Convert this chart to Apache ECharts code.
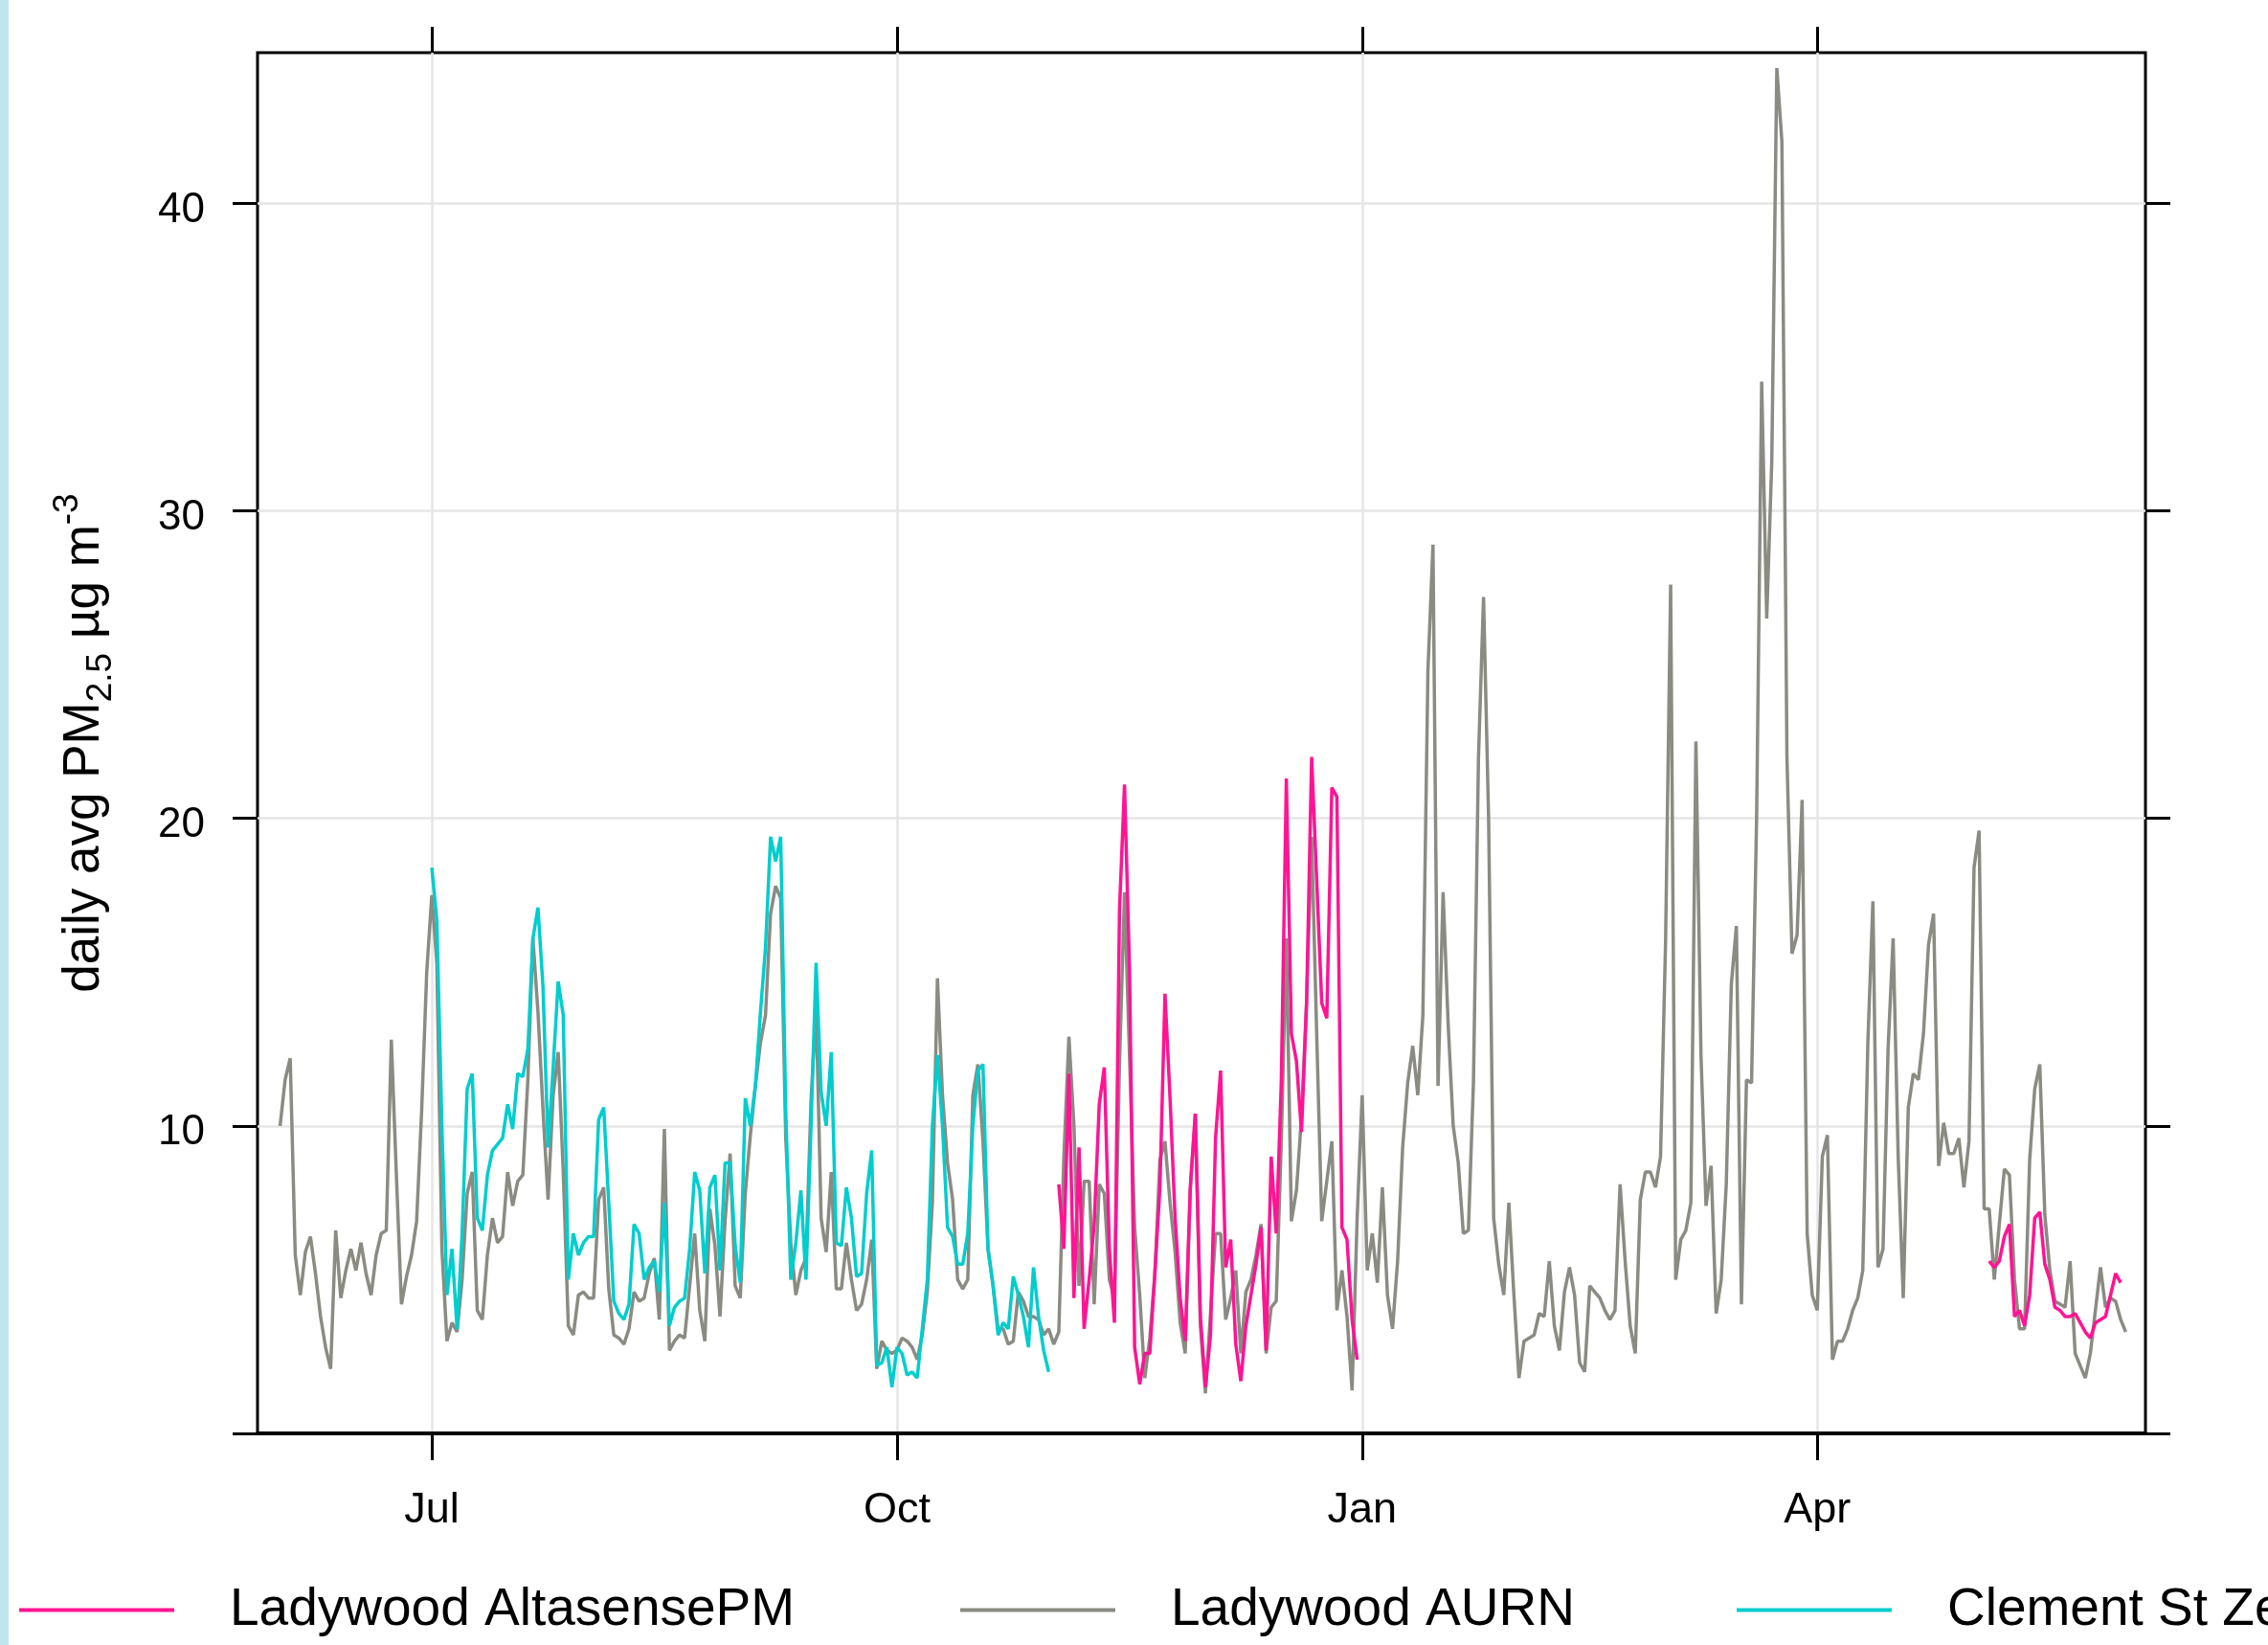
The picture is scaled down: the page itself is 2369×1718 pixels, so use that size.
<!DOCTYPE html>
<html>
<head>
<meta charset="utf-8">
<script src="https://cdn.jsdelivr.net/npm/echarts@6.0.0/dist/echarts.min.js"></script>
<style>
  html, body { margin: 0; padding: 0; background: #fff; }
  #chart { width: 2369px; height: 1718px; }
</style>
</head>
<body>
<div id="chart"></div>
<script>
// daily avg PM2.5 - Ladywood AURN vs sensors

var aurnStart = '2021-06-01';
var aurnValues = [
  10.0, 11.5, 12.2, 5.8, 4.5, 5.9, 6.4, 5.2, 3.8, 2.8,
  2.1, 6.6, 4.4, 5.3, 6.0, 5.3, 6.2, 5.2, 4.5, 5.8,
  6.5, 6.6, 12.8, 8.4, 4.2, 5.1, 5.8, 6.9, 10.5, 15.0,
  17.5, 15.3, 6.0, 3.0, 3.6, 3.3, 5.0, 7.8, 8.5, 4.0,
  3.7, 5.8, 7.0, 6.2, 6.4, 8.5, 7.4, 8.2, 8.4, 11.5,
  16.1, 13.7, 10.5, 7.6, 11.0, 12.4, 8.5, 3.5, 3.2, 4.5,
  4.6, 4.4, 4.4, 7.6, 8.0, 4.7, 3.2, 3.1, 2.9, 3.4,
  4.6, 4.3, 4.4, 5.2, 5.7, 3.7, 9.9, 2.7, 3.0, 3.2,
  3.1, 4.8, 6.5, 4.0, 3.0, 7.3, 6.1, 3.8, 6.9, 9.1,
  4.8, 4.4, 7.8, 9.7, 11.3, 12.7, 13.6, 16.9, 17.8, 17.4,
  9.6, 6.2, 4.5, 5.3, 5.7, 10.8, 13.9, 7.0, 5.9, 8.5,
  4.7, 4.7, 6.2, 5.0, 4.0, 4.2, 5.0, 6.3, 2.1, 3.0,
  2.7, 2.6, 2.7, 3.1, 3.0, 2.8, 2.4, 3.2, 4.6, 7.5,
  14.8, 11.0, 8.8, 7.6, 5.0, 4.7, 5.0, 11.0, 12.0, 9.5,
  6.0, 4.8, 3.4, 3.4, 2.9, 3.0, 4.6, 4.3, 3.8, 3.8,
  3.7, 3.2, 3.4, 2.9, 3.3, 9.0, 12.9, 10.0, 4.8, 8.2,
  8.2, 4.2, 8.1, 7.8, 5.0, 4.4, 12.0, 17.6, 12.2, 6.7,
  4.5, 1.8, 3.1, 5.2, 8.9, 9.5, 7.5, 5.9, 3.6, 2.6,
  7.9, 10.4, 3.5, 1.3, 3.9, 6.5, 6.5, 3.7, 4.4, 5.3,
  2.6, 4.6, 5.0, 5.8, 6.8, 2.6, 4.1, 4.3, 9.5, 16.1,
  6.9, 7.9, 10.3, 14.0, 19.4, 13.0, 6.9, 8.2, 9.5, 4.0,
  5.3, 3.8, 1.4, 7.0, 11.0, 5.3, 6.5, 4.9, 8.0, 4.5,
  3.4, 5.6, 9.3, 11.4, 12.6, 11.0, 13.6, 24.8, 28.9, 11.3,
  17.6, 13.3, 10.0, 8.8, 6.5, 6.6, 11.4, 22.0, 27.2, 20.0,
  7.0, 5.5, 4.5, 7.5, 4.5, 1.8, 3.0, 3.1, 3.2, 3.9,
  3.8, 5.6, 3.5, 2.7, 4.6, 5.4, 4.5, 2.3, 2.0, 4.8,
  4.6, 4.4, 4.0, 3.7, 4.0, 8.1, 5.6, 3.5, 2.6, 7.6,
  8.5, 8.5, 8.0, 9.0, 16.0, 27.6, 5.0, 6.3, 6.6, 7.5,
  22.5, 12.3, 7.4, 8.7, 3.9, 5.0, 8.1, 14.6, 16.5, 4.2,
  11.5, 11.4, 20.0, 34.2, 26.5, 31.6, 44.4, 42.0, 22.0, 15.6,
  16.2, 20.6, 6.5, 4.5, 4.0, 9.0, 9.7, 2.4, 3.0, 3.0,
  3.4, 4.0, 4.4, 5.3, 12.7, 17.3, 5.4, 6.0, 12.5, 16.1,
  9.0, 4.4, 10.6, 11.7, 11.5, 13.0, 15.9, 16.9, 8.7, 10.1,
  9.1, 9.1, 9.6, 8.0, 9.5, 18.4, 19.6, 7.3, 7.3, 5.0,
  6.8, 8.6, 8.4, 5.0, 3.4, 3.4, 8.9, 11.2, 12.0, 7.1,
  5.3, 4.3, 4.2, 4.1, 5.6, 2.6, 2.2, 1.8, 2.6, 4.0,
  5.4, 4.1, 4.4, 4.3, 3.7, 3.3
];

var zephyrStart = '2021-07-01';
var zephyrValues = [
  18.4, 16.7, 10.0, 4.5, 6.0, 3.4, 6.5, 11.2, 11.7, 7.0,
  6.6, 8.4, 9.2, 9.4, 9.6, 10.7, 9.9, 11.7, 11.6, 12.5,
  16.1, 17.1, 14.5, 9.3, 11.9, 14.7, 13.6, 5.0, 6.5, 5.8,
  6.2, 6.4, 6.4, 10.2, 10.6, 7.5, 4.3, 3.9, 3.7, 4.2,
  6.8, 6.5, 5.0, 5.4, 5.6, 4.6, 7.5, 3.5, 4.1, 4.3,
  4.4, 6.0, 8.5, 7.9, 5.2, 8.0, 8.4, 5.3, 8.8, 8.8,
  6.1, 4.9, 10.9, 10.0, 11.3, 13.7, 15.8, 19.4, 18.6, 19.4,
  10.5, 5.0, 6.2, 7.9, 5.0, 10.0, 15.3, 11.1, 10.0, 12.4,
  6.2, 6.1, 8.0, 7.0, 5.1, 5.2, 7.8, 9.2, 2.2, 2.3,
  2.8, 1.5, 2.8, 2.6, 1.9, 2.0, 1.8, 3.4, 5.0, 10.0,
  12.3, 10.0, 6.7, 6.4, 5.5, 5.5, 6.5, 10.0, 11.8, 12.0,
  6.0, 4.8, 3.2, 3.6, 3.4, 5.1, 4.5, 3.8, 2.8, 5.4,
  3.8, 2.7, 2.0
];

var altaStart1 = '2021-11-02';
var altaValues1 = [
  8.1, 6.0, 11.7, 4.4, 9.3, 3.4, 5.0, 6.8, 10.7, 11.9,
  6.0, 3.6, 17.0, 21.1, 15.0, 2.8, 1.6, 2.6, 2.6, 5.2,
  8.0, 14.3, 10.9, 7.0, 4.4, 3.0, 8.0, 10.4, 3.8, 1.5,
  3.2, 9.6, 11.8, 5.4, 6.3, 2.9, 1.7, 3.5, 4.5, 5.5,
  6.7, 2.7, 9.0, 6.5, 11.4, 21.3, 13.0, 12.1, 9.8, 14.0,
  22.0, 18.0, 14.0, 13.5, 21.0, 20.7, 6.7, 6.3, 3.7, 2.4
];

var altaStart2 = '2022-05-05';
var altaValues2 = [
  5.6, 5.4, 5.6, 6.4, 6.8, 3.8, 4.0, 3.5, 4.5, 7.0,
  7.2, 5.5, 5.0, 4.1, 4.0, 3.8, 3.8, 3.9, 3.6, 3.3,
  3.1, 3.6, 3.7, 3.8, 4.5, 5.2, 4.9
];

var xTickDates = ['2021-07-01', '2021-10-01', '2022-01-01', '2022-04-01'];
var xTickLabels = ['Jul', 'Oct', 'Jan', 'Apr'];
var yTickValues = [0, 10, 20, 30, 40];
var yLabelValues = [10, 20, 30, 40];

var seriesNames = ['Ladywood AltasensePM', 'Ladywood AURN', 'Clement St Zephyr'];
var seriesColors = ['#FF1493', '#8B8B83', '#00CDCD'];

function dayOf(s) {
  return (Date.parse(s + 'T00:00:00Z') - Date.parse(aurnStart + 'T00:00:00Z')) / 86400000;
}
function toPairs(start, values) {
  var d0 = dayOf(start);
  return values.map(function (v, i) { return [d0 + i, v]; });
}

var xTicks = xTickDates.map(dayOf);
var font = "'Liberation Sans', Arial, sans-serif";

var chart = echarts.init(document.getElementById('chart'), null, { renderer: 'canvas' });

function lineSeries(name, color, data, z) {
  return {
    name: name,
    type: 'line',
    data: data,
    showSymbol: false,
    symbol: 'none',
    z: z,
    lineStyle: { color: color, width: 3.5 },
    itemStyle: { color: color },
    emphasis: { disabled: true },
    animation: false
  };
}

function legendAt(left, idx) {
  return {
    left: left,
    top: 1649,
    data: [seriesNames[idx]],
    icon: 'rect',
    itemWidth: 162,
    itemHeight: 4,
    selectedMode: false,
    textStyle: {
      fontSize: 55,
      fontFamily: font,
      color: '#000',
      padding: [0, 0, 0, 53]
    }
  };
}

var tickStyle = { color: '#000', width: 3 };

var option = {
  backgroundColor: '#fff',
  animation: false,
  grid: {
    left: 269, top: 55, width: 1972, height: 1442,
    show: true, borderColor: '#000', borderWidth: 3,
    backgroundColor: 'transparent'
  },
  legend: [legendAt(15, 0), legendAt(998, 1), legendAt(1809, 2)],
  xAxis: [
    {
      type: 'value', position: 'bottom',
      min: -4.46, max: 368.9,
      axisLine: { show: true, onZero: false, lineStyle: { color: '#000', width: 4 } },
      axisTick: { show: true, inside: false, length: 28, customValues: xTicks, lineStyle: tickStyle },
      axisLabel: {
        customValues: xTicks, margin: 58,
        fontSize: 45, fontFamily: font, color: '#000',
        formatter: function (v) { return xTickLabels[xTicks.indexOf(v)] || ''; }
      },
      splitLine: { show: true, lineStyle: { color: '#e6e6e6', width: 2.5 } }
    },
    {
      type: 'value', position: 'top',
      min: -4.46, max: 368.9,
      axisLine: { show: false, onZero: false },
      axisTick: { show: true, inside: false, length: 27, customValues: xTicks, lineStyle: tickStyle },
      axisLabel: { show: false },
      splitLine: { show: false }
    }
  ],
  yAxis: [
    {
      type: 'value', position: 'left',
      min: 0, max: 44.9,
      name: 'daily avg PM{sub|2.5} µg m{sup|-3}',
      nameLocation: 'middle', nameRotate: 90, nameGap: 145,
      nameTextStyle: {
        fontSize: 53, fontFamily: font, color: '#000', lineHeight: 72,
        rich: {
          sub: { fontSize: 37, fontFamily: font, color: '#000', lineHeight: 36, verticalAlign: 'bottom' },
          sup: { fontSize: 37, fontFamily: font, color: '#000', lineHeight: 36, verticalAlign: 'top' }
        }
      },
      axisLine: { show: false, onZero: false },
      axisTick: { show: true, inside: false, length: 26, customValues: yTickValues, lineStyle: tickStyle },
      axisLabel: {
        customValues: yLabelValues, margin: 55,
        formatter: function (v) { return '{n|' + v + '}'; },
        rich: {
          n: { fontSize: 44, fontFamily: font, color: '#000', padding: [14, 0, 0, 0] }
        }
      },
      splitLine: { show: true, lineStyle: { color: '#e6e6e6', width: 2.5 } }
    },
    {
      type: 'value', position: 'right',
      min: 0, max: 44.9,
      axisLine: { show: false, onZero: false },
      axisTick: { show: true, inside: false, length: 26, customValues: yTickValues, lineStyle: tickStyle },
      axisLabel: { show: false },
      splitLine: { show: false }
    }
  ],
  series: [
    lineSeries(seriesNames[1], seriesColors[1], toPairs(aurnStart, aurnValues), 2),
    lineSeries(seriesNames[0], seriesColors[0], toPairs(altaStart1, altaValues1), 3),
    lineSeries(seriesNames[0], seriesColors[0], toPairs(altaStart2, altaValues2), 3),
    lineSeries(seriesNames[2], seriesColors[2], toPairs(zephyrStart, zephyrValues), 4)
  ],
  graphic: [
    { type: 'rect', left: 0, top: 0, shape: { width: 9, height: 1718 },
      style: { fill: '#bfe6ee' }, silent: true }
  ]
};

chart.setOption(option);
</script>
</body>
</html>
